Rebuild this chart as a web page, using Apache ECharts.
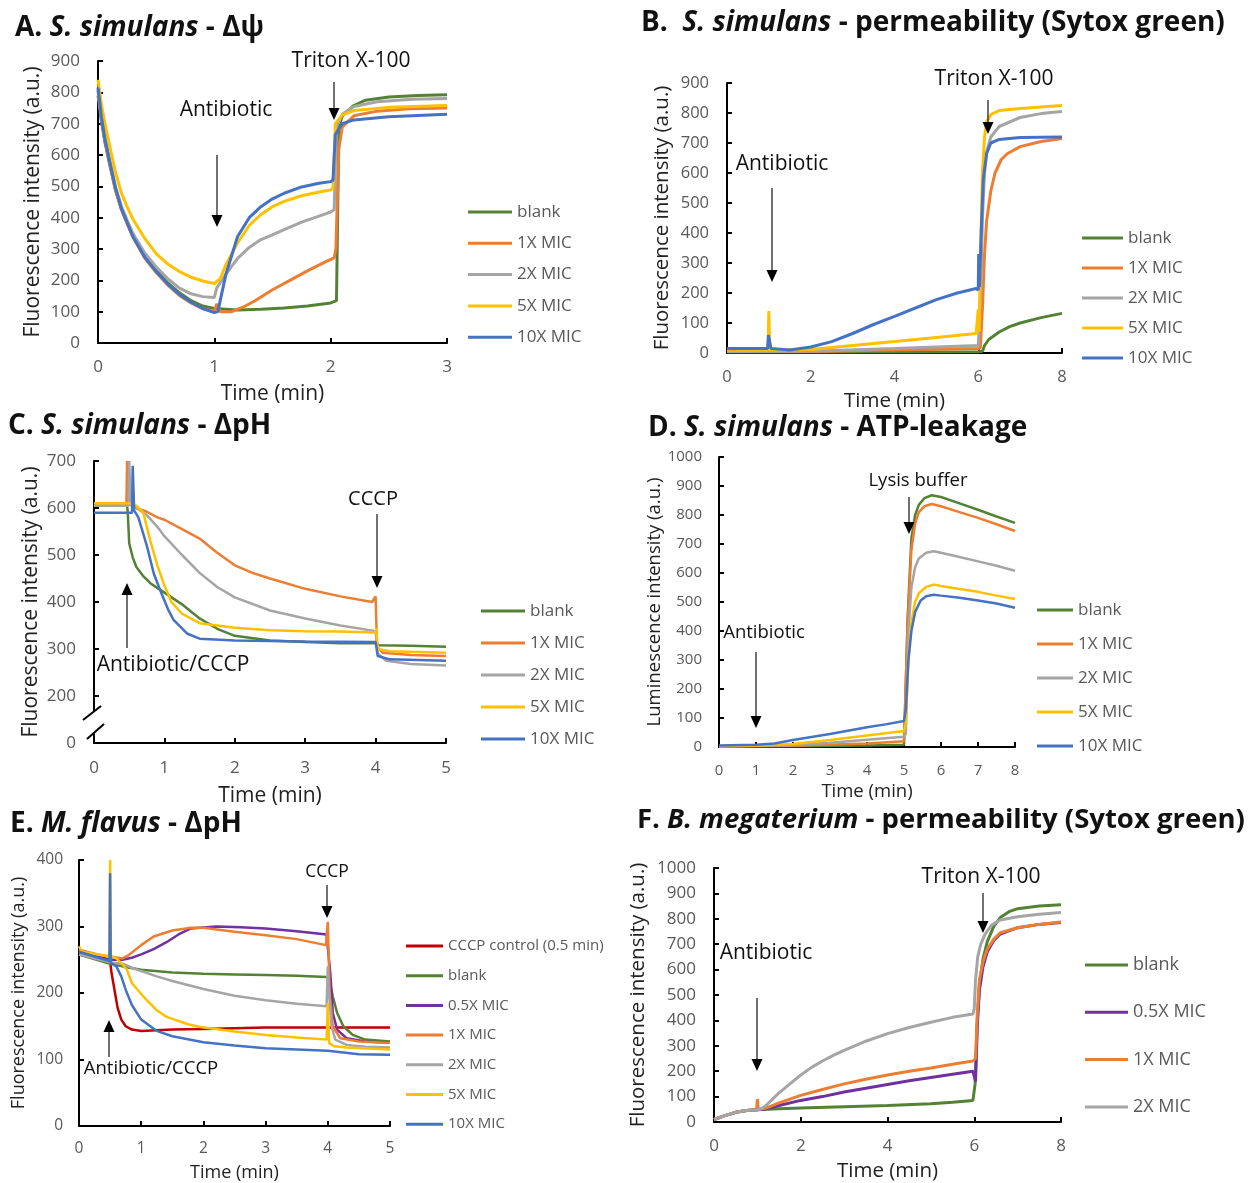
<!DOCTYPE html>
<html><head><meta charset="utf-8">
<script src="https://cdn.jsdelivr.net/npm/echarts@6/dist/echarts.min.js"></script>
<style>html,body{margin:0;padding:0;background:#fff}#c{width:1255px;height:1183px}</style>
</head><body><div id="c"></div>
<script>
// ---------- DATA (time in min, intensity in a.u.) ----------
// Panel A: S. simulans membrane potential
const A_blank=[[0,790],[0.03,705],[0.06,640],[0.1,570],[0.15,488],[0.2,428],[0.25,382],[0.3,340],[0.4,278],[0.5,232],[0.6,192],[0.7,160],[0.8,135],[0.9,118],[1.0,110],[1.2,105],[1.4,108],[1.6,112],[1.8,118],[2.0,128],[2.05,135],[2.07,690],[2.1,725],[2.2,758],[2.3,775],[2.5,785],[2.75,790],[3.0,792]];
const A_1x=[[0,805],[0.03,715],[0.06,645],[0.1,575],[0.15,490],[0.2,428],[0.25,382],[0.3,338],[0.4,272],[0.5,225],[0.6,185],[0.7,152],[0.8,128],[0.9,110],[1.0,100],[1.02,125],[1.05,100],[1.15,100],[1.25,115],[1.35,135],[1.5,170],[1.65,200],[1.8,230],[1.95,258],[2.03,272],[2.045,300],[2.07,620],[2.1,690],[2.2,725],[2.4,740],[2.7,748],[3.0,750]];
const A_2x=[[0,810],[0.03,720],[0.06,655],[0.1,585],[0.15,500],[0.2,438],[0.25,392],[0.3,350],[0.4,288],[0.5,243],[0.6,205],[0.7,175],[0.8,157],[0.9,148],[1.0,145],[1.02,175],[1.1,220],[1.2,270],[1.3,305],[1.4,330],[1.5,345],[1.6,362],[1.75,386],[1.9,405],[2.0,418],[2.03,425],[2.05,690],[2.1,730],[2.2,755],[2.4,770],[2.7,778],[3.0,780]];
const A_5x=[[0,840],[0.03,760],[0.06,700],[0.1,630],[0.15,545],[0.2,480],[0.25,435],[0.3,395],[0.4,335],[0.5,285],[0.6,252],[0.7,228],[0.8,210],[0.9,198],[1.0,190],[1.05,205],[1.1,250],[1.2,320],[1.3,375],[1.4,410],[1.5,435],[1.6,452],[1.75,470],[1.9,482],[2.0,488],[2.02,495],[2.04,700],[2.1,728],[2.2,742],[2.5,752],[3.0,758]];
const A_10x=[[0,815],[0.03,720],[0.06,650],[0.1,580],[0.15,495],[0.2,430],[0.25,385],[0.3,340],[0.4,275],[0.5,228],[0.6,188],[0.7,155],[0.8,130],[0.9,110],[1.0,97],[1.03,100],[1.1,220],[1.2,340],[1.3,400],[1.4,435],[1.5,460],[1.6,478],[1.75,498],[1.9,510],[2.0,515],[2.02,520],[2.04,665],[2.1,700],[2.2,712],[2.5,722],[3.0,730]];
// Panel B: S. simulans permeability
const B_blank=[[0,3],[2,3],[4,3],[6,4],[6.1,6],[6.15,25],[6.25,45],[6.5,70],[6.75,88],[7,100],[7.5,118],[8,132]];
const B_1x=[[0,5],[2,5],[4,10],[6,15],[6.05,18],[6.1,150],[6.15,330],[6.2,440],[6.3,540],[6.4,600],[6.55,645],[6.7,665],[7,688],[7.5,705],[8,715]];
const B_2x=[[0,5],[2,6],[4,15],[6,25],[6.03,30],[6.06,200],[6.1,450],[6.15,600],[6.2,670],[6.3,720],[6.5,755],[7,785],[7.5,798],[8,805]];
const B_5x=[[0,10],[0.98,10],[1.0,140],[1.02,10],[2,12],[3,25],[4,38],[5,52],[5.95,65],[6.0,145],[6.02,70],[6.05,300],[6.1,600],[6.15,720],[6.2,770],[6.3,795],[6.5,808],[7,815],[8,825]];
const B_10x=[[0,15],[0.97,15],[0.99,60],[1.03,55],[1.05,15],[1.5,10],[2,20],[2.5,38],[3,65],[3.5,95],[4,122],[4.5,150],[5,178],[5.5,200],[5.95,215],[6.0,210],[6.01,330],[6.03,220],[6.07,400],[6.12,580],[6.2,665],[6.3,700],[6.5,712],[7,718],[8,720]];
// Panel C: S. simulans pH gradient
const C_blank=[[0,605],[0.47,605],[0.48,590],[0.5,525],[0.55,495],[0.6,475],[0.7,455],[0.8,440],[1.0,420],[1.25,395],[1.5,365],[1.75,343],[2.0,328],[2.5,318],[3.0,315],[3.5,312],[4.0,312],[4.05,308],[4.5,307],[5.0,305]];
const C_1x=[[0,605],[0.46,605],[0.47,700],[0.48,610],[0.6,600],[0.75,592],[0.9,580],[1.0,575],[1.25,555],[1.5,535],[1.75,505],[2.0,478],[2.25,462],[2.5,450],[3.0,428],[3.5,412],[3.95,400],[4.0,412],[4.02,305],[4.1,292],[4.5,287],[5.0,285]];
const C_2x=[[0,605],[0.49,605],[0.5,700],[0.52,610],[0.6,600],[0.75,585],[0.9,560],[1.0,540],[1.25,500],[1.5,462],[1.75,432],[2.0,410],[2.5,382],[3.0,365],[3.5,350],[4.0,338],[4.03,290],[4.15,275],[4.5,268],[5.0,265]];
const C_5x=[[0,610],[0.5,610],[0.6,605],[0.7,590],[0.8,530],[0.9,478],[1.0,435],[1.1,400],[1.25,375],[1.5,355],[2.0,345],[2.5,340],[3.0,338],[3.5,337],[4.0,335],[4.01,345],[4.03,300],[4.2,295],[5.0,292]];
const C_10x=[[0,590],[0.54,590],[0.55,690],[0.57,595],[0.63,580],[0.75,520],[0.85,460],[0.94,425],[1.05,385],[1.13,362],[1.32,333],[1.5,322],[2.0,318],[3.0,316],[4.0,315],[4.03,285],[4.2,278],[5.0,275]];
const C_yTickLabels={100:'0',200:'200',300:'300',400:'400',500:'500',600:'600',700:'700'};
// Panel D: ATP leakage
const D_blank=[[0,3],[2,3],[4,5],[5,8],[5.03,10],[5.1,450],[5.2,720],[5.3,800],[5.4,835],[5.55,858],[5.75,868],[6,862],[6.5,840],[7,818],[7.5,795],[8,773]];
const D_1x=[[0,3],[2,4],[4,12],[5,20],[5.03,25],[5.1,430],[5.2,680],[5.3,770],[5.4,810],[5.55,830],[5.75,838],[6,830],[6.5,810],[7,790],[7.5,768],[8,745]];
const D_2x=[[0,3],[2,6],[3,15],[4,25],[5,35],[5.05,45],[5.12,400],[5.2,550],[5.3,620],[5.4,650],[5.6,670],[5.8,675],[6,670],[6.5,655],[7,640],[7.5,625],[8,608]];
const D_5x=[[0,3],[1,4],[2,10],[3,24],[4,40],[5,55],[5.05,80],[5.12,300],[5.2,430],[5.3,500],[5.4,530],[5.6,552],[5.8,560],[6,555],[6.5,545],[7,535],[7.5,522],[8,510]];
const D_10x=[[0,5],[1,8],[1.5,12],[2,24],[3,45],[4,68],[4.5,78],[5,90],[5.05,130],[5.12,300],[5.2,400],[5.3,465],[5.45,505],[5.6,520],[5.8,525],[6,522],[6.5,515],[7,505],[7.5,495],[8,480]];
// Panel E: M. flavus pH gradient
const E_cccp=[[0,262],[0.25,256],[0.5,248],[0.52,232],[0.57,205],[0.62,178],[0.68,160],[0.75,150],[0.85,145],[1.0,143],[1.5,145],[2.0,146],[2.5,147],[3.0,148],[4.0,148],[5.0,148]];
const E_blank=[[0,258],[0.5,244],[0.7,240],[1.0,235],[1.5,231],[2.0,229],[2.5,228],[3.0,227],[3.5,226],[3.98,224],[4.02,222],[4.08,195],[4.15,170],[4.25,150],[4.4,137],[4.6,130],[5.0,127]];
const E_05x=[[0,262],[0.5,250],[0.7,250],[0.85,253],[1.0,258],[1.2,266],[1.4,276],[1.6,288],[1.8,297],[2.2,300],[2.6,299],[3.0,297],[3.5,293],[3.98,288],[4.01,290],[4.04,230],[4.08,170],[4.15,145],[4.3,132],[4.6,127],[5.0,125]];
const E_1x=[[0,265],[0.3,258],[0.5,255],[0.7,252],[0.8,257],[1.0,272],[1.2,285],[1.5,294],[1.8,298],[2.0,298],[2.5,292],[3.0,287],[3.5,281],[3.97,272],[4.0,307],[4.03,200],[4.08,150],[4.2,132],[4.5,127],[5.0,125]];
const E_2x=[[0,258],[0.5,246],[0.7,244],[0.85,238],[1.0,233],[1.25,225],[1.5,218],[2.0,206],[2.5,196],[3.0,189],[3.5,184],[3.98,180],[4.0,240],[4.02,200],[4.06,150],[4.12,130],[4.3,122],[4.6,119],[5.0,118]];
const E_5x=[[0,270],[0.05,262],[0.49,255],[0.5,400],[0.51,256],[0.6,252],[0.68,245],[0.77,235],[0.85,215],[1.04,194],[1.25,174],[1.41,164],[1.75,153],[1.95,149],[2.5,142],[3.0,137],[3.5,133],[3.98,130],[4.0,185],[4.02,125],[4.1,120],[4.3,118],[5.0,115]];
const E_10x=[[0,262],[0.49,248],[0.5,380],[0.51,246],[0.6,240],[0.68,225],[0.75,205],[0.85,182],[1.0,160],[1.25,143],[1.5,135],[2.0,126],[2.5,121],[3.0,117],[3.5,115],[4.0,113],[4.03,110],[4.5,108],[5.0,107]];
// Panel F: B. megaterium permeability
const F_blank=[[0,10],[0.25,25],[0.5,38],[0.75,45],[1.0,48],[1.5,52],[2.0,55],[3.0,60],[4.0,65],[5.0,72],[5.5,78],[5.97,85],[6.0,85],[6.02,150],[6.07,400],[6.12,540],[6.2,640],[6.3,710],[6.45,770],[6.6,805],[6.8,828],[7.0,840],[7.5,850],[8.0,855]];
const F_05x=[[0,10],[0.25,25],[0.5,38],[0.75,45],[1.0,48],[1.2,52],[1.5,65],[2.0,85],[2.5,100],[3.0,118],[3.5,133],[4.0,148],[4.5,162],[5.0,175],[5.5,188],[5.97,200],[6.0,200],[6.03,160],[6.07,380],[6.12,520],[6.2,610],[6.3,670],[6.45,715],[6.6,740],[7.0,765],[7.5,778],[8.0,785]];
const F_1x=[[0,10],[0.25,25],[0.5,38],[0.75,45],[0.98,48],[1.0,90],[1.02,50],[1.2,55],[1.5,75],[2.0,105],[2.5,128],[3.0,150],[3.5,168],[4.0,185],[4.5,200],[5.0,213],[5.5,227],[5.97,240],[6.03,250],[6.07,430],[6.12,560],[6.2,630],[6.3,680],[6.45,720],[6.6,745],[7.0,765],[7.5,778],[8.0,787]];
const F_2x=[[0,10],[0.25,25],[0.5,38],[0.75,45],[1.0,48],[1.1,52],[1.2,65],[1.35,90],[1.5,115],[1.75,150],[2.0,185],[2.25,215],[2.5,240],[2.75,262],[3.0,282],[3.5,318],[4.0,348],[4.5,372],[5.0,393],[5.5,412],[5.97,425],[6.0,445],[6.03,560],[6.08,650],[6.15,700],[6.25,740],[6.4,775],[6.6,795],[7.0,808],[7.5,818],[8.0,825]];

const NAMES5=['blank','1X MIC','2X MIC','5X MIC','10X MIC'];
const NAMES_E=['CCCP control (0.5 min)','blank','0.5X MIC','1X MIC','2X MIC','5X MIC','10X MIC'];
const NAMES_F=['blank','0.5X MIC','1X MIC','2X MIC'];

// ---------- STYLE / LAYOUT ----------
const FONT="'Open Sans', 'Noto Sans', sans-serif";
const COL={'blank':'#548235','1X MIC':'#ED7D31','2X MIC':'#A5A5A5','5X MIC':'#FFC000','10X MIC':'#4472C4','0.5X MIC':'#7030A0','CCCP control (0.5 min)':'#C00000'};
const panels=[
 {grid:{left:98,top:61,width:349,height:282},xmax:3,xint:1,ymin:0,ymax:900,yint:100,fs:17,xm:16,ym:18,nfs:21,xng:41,yng:54.5,lw:3,
  names:NAMES5,data:[A_blank,A_1x,A_2x,A_5x,A_10x],leg:{left:468,top:203.5,w:44,gap:14.3,fs:17,lh:17}},
 {grid:{left:727,top:83,width:335,height:270},xmax:8,xint:2,ymin:0,ymax:900,yint:100,fs:16.5,xm:16,ym:18,nfs:20.5,xng:38,yng:54.5,lw:3,
  names:NAMES5,data:[B_blank,B_1x,B_2x,B_5x,B_10x],leg:{left:1082,top:229.5,w:41,gap:13,fs:17,lh:17}},
 {grid:{left:94,top:461,width:352,height:282},xmax:5,xint:1,ymin:100,ymax:700,yint:100,fs:17,xm:17,ym:18,nfs:21,xng:43,yng:52.5,lw:2.5,
  names:NAMES5,data:[C_blank,C_1x,C_2x,C_5x,C_10x],leg:{left:481,top:602.5,w:44,gap:15,fs:17,lh:17},ylab:v=>C_yTickLabels[v]},
 {grid:{left:719,top:457,width:296,height:290},xmax:8,xint:1,ymin:0,ymax:1000,yint:100,fs:15,xm:16,ym:17,nfs:18.5,xng:35,yng:54,lw:2.5,
  names:NAMES5,data:[D_blank,D_1x,D_2x,D_5x,D_10x],leg:{left:1037,top:601.5,w:36,gap:17,fs:17,lh:17},yname:'Luminescence intensity (a.u.)'},
 {grid:{left:79,top:860,width:311,height:266},xmax:5,xint:1,ymin:0,ymax:400,yint:100,fs:15.5,xm:15,ym:16,nfs:18,xng:38,yng:51,lw:2.5,
  names:NAMES_E,data:[E_cccp,E_blank,E_05x,E_1x,E_2x,E_5x,E_10x],leg:{left:406,top:938.5,w:37,gap:14.7,fs:15,lh:15}},
 {grid:{left:714,top:868,width:347,height:254},xmax:8,xint:2,ymin:0,ymax:1000,yint:100,fs:17,xm:16,ym:18,nfs:20.5,xng:39,yng:65.5,lw:3,
  names:NAMES_F,data:[F_blank,F_05x,F_1x,F_2x],leg:{left:1085,top:956,w:43,gap:29.3,fs:18,lh:18}}
];
const titles=[
 {left:15,top:14,fs:28,parts:[['A. ','n'],['S. simulans','i'],[' - Δψ','n']]},
 {left:641,top:9,fs:28,parts:[['B.  ','n'],['S. simulans','i'],[' - permeability (Sytox green)','n']]},
 {left:8,top:412,fs:28,parts:[['C. ','n'],['S. simulans','i'],[' - ΔpH','n']]},
 {left:648,top:414,fs:28,parts:[['D. ','n'],['S. simulans','i'],[' - ATP-leakage','n']]},
 {left:10,top:810,fs:28,parts:[['E. ','n'],['M. flavus','i'],[' - ΔpH','n']]},
 {left:637,top:806,fs:27.5,parts:[['F. ','n'],['B. megaterium','i'],[' - permeability (Sytox green)','n']]}
];
// annotations: text centre and arrow (x, start y, tip y) in page pixels
const notes=[
 {t:'Antibiotic',x:226,y:110,fs:21},{t:'Triton X-100',x:351,y:61,fs:21},
 {t:'Antibiotic',x:782,y:164,fs:21},{t:'Triton X-100',x:994,y:79,fs:21},
 {t:'CCCP',x:373,y:499,fs:20},{t:'Antibiotic/CCCP',x:173,y:665,fs:21},
 {t:'Lysis buffer',x:918,y:481,fs:18.5},{t:'Antibiotic',x:764,y:633,fs:18.5},
 {t:'CCCP',x:327,y:872,fs:17.5},{t:'Antibiotic/CCCP',x:151,y:1069,fs:18.5},
 {t:'Antibiotic',x:766,y:953,fs:21},{t:'Triton X-100',x:981,y:877,fs:21}
];
const arrows=[[217,155,227],[334,82,120],[772,188,282],[988,100,134],[377,514,588],[127,648,583],
 [909,497,534],[756,652,728],[327,885,918],[109,1057,1020],[757,998,1071],[983,893,933]];

const grid=[],xAxis=[],yAxis=[],series=[],legend=[],title=[],graphic=[];
panels.forEach((p,i)=>{
 grid.push(Object.assign({},p.grid));
 xAxis.push({type:'value',gridIndex:i,min:0,max:p.xmax,interval:p.xint,name:'Time (min)',nameLocation:'middle',nameGap:p.xng,
  nameTextStyle:{fontSize:p.nfs,color:'#222',fontFamily:FONT},
  axisLine:{lineStyle:{color:'#000',width:2}},axisTick:{inside:true,length:5,lineStyle:{color:'#000',width:2}},
  axisLabel:{fontSize:p.fs,color:'#595959',margin:p.xm,fontFamily:FONT},splitLine:{show:false}});
 yAxis.push({type:'value',gridIndex:i,min:p.ymin,max:p.ymax,interval:p.yint,name:p.yname||'Fluorescence intensity (a.u.)',nameLocation:'middle',nameGap:p.yng,
  nameTextStyle:{fontSize:p.nfs,color:'#222',fontFamily:FONT},
  axisLine:{lineStyle:{color:'#000',width:2}},axisTick:{inside:true,length:5,lineStyle:{color:'#000',width:2}},
  axisLabel:{fontSize:p.fs,color:'#595959',margin:p.ym,fontFamily:FONT,formatter:p.ylab||(v=>String(v))},splitLine:{show:false}});
 p.names.forEach((n,k)=>{
  series.push({type:'line',name:n,data:p.data[k],xAxisIndex:i,yAxisIndex:i,symbol:'none',showSymbol:false,silent:true,
   lineStyle:{width:p.lw,color:COL[n]},itemStyle:{color:COL[n]},emphasis:{disabled:true},clip:true});
 });
 legend.push({orient:'vertical',left:p.leg.left,top:p.leg.top,padding:0,itemWidth:p.leg.w,itemHeight:3,itemGap:p.leg.gap,icon:'rect',
  selectedMode:false,data:p.names,textStyle:{fontSize:p.leg.fs,lineHeight:p.leg.lh,color:'#595959',fontFamily:FONT}});
});
titles.forEach(t=>{
 title.push({left:t.left,top:t.top,padding:0,text:t.parts.map(([s,k])=>'{'+k+'|'+s+'}').join(''),
  textStyle:{rich:{n:{fontSize:t.fs,fontWeight:'bold',color:'#111',fontFamily:FONT},i:{fontSize:t.fs,fontWeight:'bold',fontStyle:'italic',color:'#111',fontFamily:FONT}}}});
});
notes.forEach(n=>graphic.push({type:'text',x:n.x,y:n.y,z:100,style:{text:n.t,fontSize:n.fs,fontFamily:FONT,fill:'#111',textAlign:'center',textVerticalAlign:'middle'}}));
arrows.forEach(([x,y1,y2])=>{
 const d=y2>y1?1:-1, hl=12, hw=5.5;
 graphic.push({type:'line',z:100,shape:{x1:x,y1:y1,x2:x,y2:y2-d*hl},style:{stroke:'#111',lineWidth:1.2}});
 graphic.push({type:'polygon',z:100,shape:{points:[[x-hw,y2-d*hl],[x+hw,y2-d*hl],[x,y2]]},style:{fill:'#000'}});
});
// broken y axis marks in panel C
graphic.push({type:'rect',z:100,shape:{x:89,y:711,width:10,height:22},style:{fill:'#fff'}});
graphic.push({type:'line',z:101,shape:{x1:83,y1:720,x2:101,y2:706},style:{stroke:'#000',lineWidth:2}});
graphic.push({type:'line',z:101,shape:{x1:87,y1:739,x2:104,y2:724},style:{stroke:'#000',lineWidth:2}});

const chart=echarts.init(document.getElementById('c'),null,{renderer:'canvas'});
chart.setOption({animation:false,backgroundColor:'#fff',title,grid,xAxis,yAxis,series,legend,graphic});
</script></body></html>
